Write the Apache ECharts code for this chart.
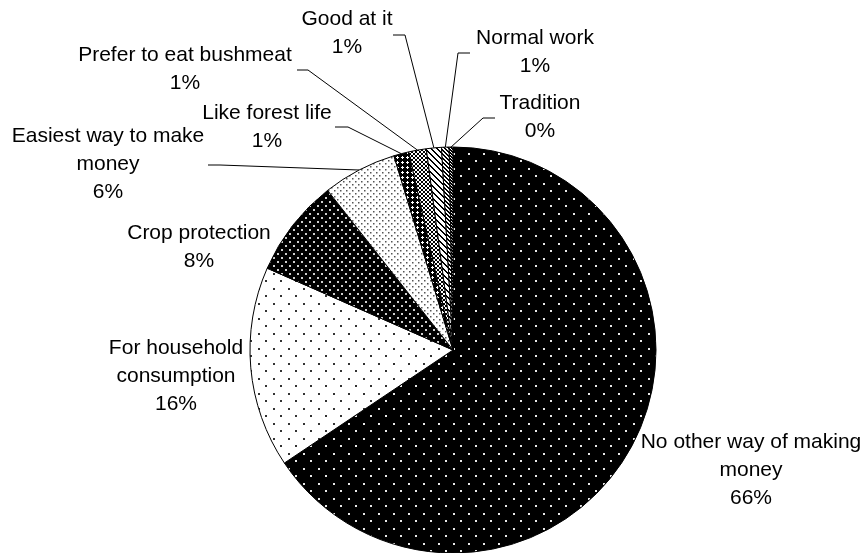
<!DOCTYPE html>
<html>
<head>
<meta charset="utf-8">
<script src="https://cdn.jsdelivr.net/npm/echarts@6/dist/echarts.min.js"></script>
<style>
html,body{margin:0;padding:0;background:#fff;}
#chart{width:868px;height:553px;}
</style>
</head>
<body>
<div id="chart"></div>
<script>
// ---- data ----
const categories = [
  'No other way of making\nmoney',
  'For household\nconsumption',
  'Crop protection',
  'Easiest way to make\nmoney',
  'Like forest life',
  'Prefer to eat bushmeat',
  'Good at it',
  'Normal work',
  'Tradition'
];
const shares = [65.6, 16.0, 7.8, 5.9, 1.2, 1.4, 1.2, 0.6, 0.3];

// ---- layout (label anchors, leader line bends) ----
const labelPos = [
  [751, 470], [176, 376], [199, 247], [108, 164], [267, 127],
  [185, 69], [347, 33], [535, 52], [540, 117]
];
const leaderBends = [
  null, null, null,
  [[220, 165], [208, 165]],
  [[348, 127], [335, 127]],
  [[308, 70], [297, 70]],
  [[405, 35], [393, 35]],
  [[458, 53], [470, 53]],
  [[483, 118], [495, 118]]
];

// ---- fill patterns ----
function tile(w, h, draw) {
  const c = document.createElement('canvas');
  c.width = w; c.height = h;
  const ctx = c.getContext('2d');
  draw(ctx, w, h);
  return { image: c, repeat: 'repeat' };
}
function dots(bg, fg, size, pts, dsz) {
  return tile(size, size, (ctx) => {
    ctx.fillStyle = bg; ctx.fillRect(0, 0, size, size);
    ctx.fillStyle = fg;
    pts.forEach(p => ctx.fillRect(p[0], p[1], dsz, dsz));
  });
}
function stripes(size, thick, bg, fg) {
  return tile(size, size, (ctx) => {
    ctx.fillStyle = bg; ctx.fillRect(0, 0, size, size);
    ctx.fillStyle = fg;
    for (let y = 0; y < size; y++)
      for (let x = 0; x < size; x++)
        if (((x - y) % size + size) % size < thick) ctx.fillRect(x, y, 1, 1);
  });
}
const patterns = [
  dots('#000', '#e8e8e8', 15, [[3, 3], [10, 10]], 2),
  dots('#fff', '#333', 15, [[3, 3], [10, 10]], 2),
  dots('#000', '#d0d0d0', 8, [[1, 1], [5, 5]], 2),
  dots('#fff', '#555', 6, [[1, 1], [4, 4]], 1.5),
  tile(5, 5, (ctx) => {
    ctx.fillStyle = '#000'; ctx.fillRect(0, 0, 5, 5);
    ctx.fillStyle = '#fff'; ctx.fillRect(2, 1, 1, 3); ctx.fillRect(1, 2, 3, 1);
  }),
  tile(4, 4, (ctx) => {
    ctx.fillStyle = '#fff'; ctx.fillRect(0, 0, 4, 4);
    ctx.fillStyle = '#000';
    for (let i = 0; i < 4; i++) { ctx.fillRect(i, i, 1, 1); ctx.fillRect(3 - i, i, 1, 1); }
  }),
  stripes(6, 2, '#fff', '#000'),
  stripes(4, 2, '#fff', '#000'),
  stripes(3, 2, '#fff', '#000')
];

const total = shares.reduce((a, b) => a + b, 0);
const data = categories.map((name, i) => ({
  name: name,
  value: shares[i],
  itemStyle: { color: patterns[i] },
  labelLine: { show: !!leaderBends[i] }
}));

const chart = echarts.init(document.getElementById('chart'), null, { renderer: 'canvas' });
chart.setOption({
  backgroundColor: '#fff',
  animation: false,
  series: [{
    type: 'pie',
    center: [453, 350],
    radius: 203,
    startAngle: 90,
    clockwise: true,
    avoidLabelOverlap: false,
    data: data,
    itemStyle: { borderColor: '#000', borderWidth: 1 },
    emphasis: { disabled: true },
    label: {
      show: true,
      position: 'outside',
      width: 300,
      overflow: 'none',
      color: '#000',
      fontFamily: '"Liberation Sans", Arial, sans-serif',
      fontSize: 21,
      lineHeight: 28,
      align: 'center',
      formatter: p => p.name + '\n' + Math.round(p.value / total * 100) + '%'
    },
    labelLine: {
      show: true,
      length: 10,
      length2: 10,
      lineStyle: { color: '#000', width: 1 }
    },
    labelLayout: function (params) {
      const i = params.dataIndex;
      const out = { x: labelPos[i][0], y: labelPos[i][1], align: 'center', verticalAlign: 'middle' };
      if (leaderBends[i] && params.labelLinePoints) {
        out.labelLinePoints = [params.labelLinePoints[0]].concat(leaderBends[i]);
      }
      return out;
    }
  }]
});
</script>
</body>
</html>
